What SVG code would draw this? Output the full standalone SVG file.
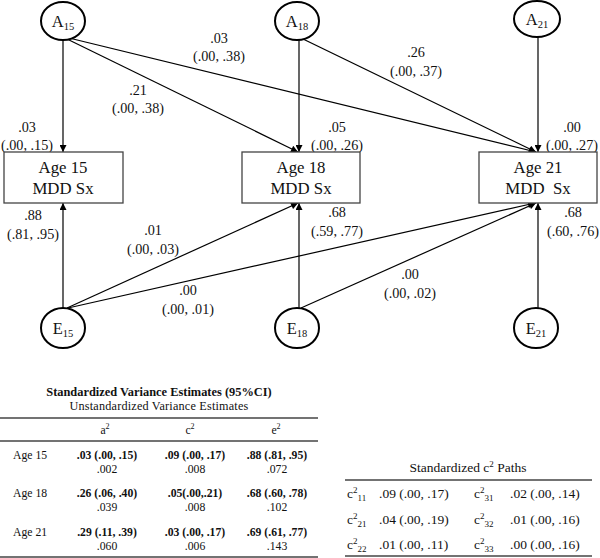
<svg xmlns="http://www.w3.org/2000/svg" width="600" height="558" viewBox="0 0 600 558" font-family="'Liberation Serif', 'Times New Roman', serif">
<defs>
<marker id="ah" viewBox="0 0 10 10" refX="10" refY="5" markerWidth="8" markerHeight="7" markerUnits="userSpaceOnUse" orient="auto"><path d="M0,0 L10,5 L0,10 z" fill="#000"/></marker>
<style>
text{font-family:"Liberation Serif","Times New Roman",serif;fill:#111}
.lat{fill:#fff;stroke:#000;stroke-width:2}
.box{fill:#fff;stroke:#444;stroke-width:1.3}
.c{stroke:#000;stroke-width:1.2;fill:none;marker-end:url(#ah)}
.lbl{font-size:14.2px;text-anchor:middle}
.nm{font-size:16.5px;text-anchor:middle}
.bx{font-size:16.8px;text-anchor:middle}
.tb{font-size:11.7px}
.t2{font-size:13.5px}
.b{font-weight:bold}
.m{text-anchor:middle}
.rule{stroke:#444;stroke-width:1.5}
</style>
</defs>
<g id="connectors">
<line class="c" x1="63" y1="40" x2="63" y2="152"/>
<line class="c" x1="67" y1="39" x2="298" y2="152"/>
<line class="c" x1="69" y1="38" x2="536" y2="152"/>
<line class="c" x1="299" y1="40" x2="299" y2="152"/>
<line class="c" x1="303" y1="39" x2="536" y2="152"/>
<line class="c" x1="538" y1="37" x2="538" y2="152"/>
<line class="c" x1="63" y1="308" x2="63" y2="203"/>
<line class="c" x1="67" y1="308" x2="298" y2="203"/>
<line class="c" x1="68" y1="308" x2="535" y2="203"/>
<line class="c" x1="299" y1="308" x2="299" y2="203"/>
<line class="c" x1="301" y1="308" x2="536" y2="203"/>
<line class="c" x1="538" y1="308" x2="538" y2="203"/>
</g>
<g id="labels">
<text class="lbl" x="27" y="132">.03</text><text class="lbl" x="27" y="150">(.00, .15)</text>
<text class="lbl" x="138" y="95">.21</text><text class="lbl" x="138" y="113">(.00, .38)</text>
<text class="lbl" x="219" y="43">.03</text><text class="lbl" x="219" y="61">(.00, .38)</text>
<text class="lbl" x="416" y="57">.26</text><text class="lbl" x="416" y="76">(.00, .37)</text>
<text class="lbl" x="337" y="132">.05</text><text class="lbl" x="337" y="150">(.00, .26)</text>
<text class="lbl" x="572" y="132">.00</text><text class="lbl" x="572" y="150">(.00, .27)</text>
<text class="lbl" x="33" y="220">.88</text><text class="lbl" x="33" y="239">(.81, .95)</text>
<text class="lbl" x="153" y="235">.01</text><text class="lbl" x="153" y="254">(.00, .03)</text>
<text class="lbl" x="188" y="295">.00</text><text class="lbl" x="188" y="314">(.00, .01)</text>
<text class="lbl" x="337" y="217">.68</text><text class="lbl" x="337" y="236">(.59, .77)</text>
<text class="lbl" x="410" y="279">.00</text><text class="lbl" x="410" y="298">(.00, .02)</text>
<text class="lbl" x="573" y="217">.68</text><text class="lbl" x="573" y="236">(.60, .76)</text>
</g>
<g id="A15"><ellipse class="lat" cx="63" cy="21" rx="22" ry="19"/><text class="nm" x="63" y="27">A<tspan font-size="10.5" dy="3">15</tspan></text></g>
<g id="A18"><ellipse class="lat" cx="297" cy="21" rx="22" ry="19"/><text class="nm" x="297" y="27">A<tspan font-size="10.5" dy="3">18</tspan></text></g>
<g id="A21"><ellipse class="lat" cx="537" cy="19" rx="23" ry="18"/><text class="nm" x="537" y="25">A<tspan font-size="10.5" dy="3">21</tspan></text></g>
<g id="age15"><rect class="box" x="4" y="152" width="119" height="51"/><text class="bx" x="63" y="173">Age 15</text><text class="bx" x="63" y="194">MDD Sx</text></g>
<g id="age18"><rect class="box" x="242" y="152" width="118" height="51"/><text class="bx" x="301" y="173">Age 18</text><text class="bx" x="301" y="194">MDD Sx</text></g>
<g id="age21"><rect class="box" x="479" y="152" width="118" height="51"/><text class="bx" x="538" y="173">Age 21</text><text class="bx" x="538" y="194" xml:space="preserve">MDD  Sx</text></g>
<g id="E15"><ellipse class="lat" cx="63" cy="328" rx="22" ry="20"/><text class="nm" x="63" y="334">E<tspan font-size="10.5" dy="3">15</tspan></text></g>
<g id="E18"><ellipse class="lat" cx="297" cy="328" rx="22" ry="20"/><text class="nm" x="297" y="334">E<tspan font-size="10.5" dy="3">18</tspan></text></g>
<g id="E21"><ellipse class="lat" cx="536" cy="328" rx="22" ry="20"/><text class="nm" x="536" y="334">E<tspan font-size="10.5" dy="3">21</tspan></text></g>
<g id="table1">
<text class="b m" font-size="12.4" x="159" y="396">Standardized Variance Estimates (95%CI)</text>
<text class="m" font-size="12.2" letter-spacing="0.2" x="159" y="410">Unstandardized Variance Estimates</text>
<line class="rule" x1="0" y1="418" x2="318" y2="418"/>
<line class="rule" x1="0" y1="441" x2="318" y2="441"/>
<line class="rule" x1="0" y1="557" x2="318" y2="557"/>
<text class="tb m" x="105" y="434">a<tspan font-size="8" dy="-5">2</tspan></text>
<text class="tb m" x="190" y="434">c<tspan font-size="8" dy="-5">2</tspan></text>
<text class="tb m" x="276" y="434">e<tspan font-size="8" dy="-5">2</tspan></text>
<text class="tb" x="13" y="459">Age 15</text>
<text class="tb b m" x="107" y="459">.03 (.00, .15)</text><text class="tb m" x="107" y="473">.002</text>
<text class="tb b m" x="195" y="459">.09 (.00, .17)</text><text class="tb m" x="195" y="473">.008</text>
<text class="tb b m" x="277" y="459">.88 (.81, .95)</text><text class="tb m" x="277" y="473">.072</text>
<text class="tb" x="13" y="497">Age 18</text>
<text class="tb b m" x="107" y="497">.26 (.06, .40)</text><text class="tb m" x="107" y="511">.039</text>
<text class="tb b m" x="195" y="497">.05(.00,.21)</text><text class="tb m" x="195" y="511">.008</text>
<text class="tb b m" x="277" y="497">.68 (.60, .78)</text><text class="tb m" x="277" y="511">.102</text>
<text class="tb" x="13" y="536">Age 21</text>
<text class="tb b m" x="107" y="536">.29 (.11, .39)</text><text class="tb m" x="107" y="550">.060</text>
<text class="tb b m" x="195" y="536">.03 (.00, .17)</text><text class="tb m" x="195" y="550">.006</text>
<text class="tb b m" x="277" y="536">.69 (.61, .77)</text><text class="tb m" x="277" y="550">.143</text>
</g>
<g id="table2">
<text class="t2 m" x="468" y="472">Standardized c<tspan font-size="9" dy="-5">2</tspan><tspan dy="5"> Paths</tspan></text>
<line class="rule" x1="345" y1="480" x2="592" y2="480"/>
<line class="rule" x1="345" y1="556" x2="592" y2="556"/>
<text class="t2" x="347" y="498">c<tspan font-size="9" dy="-5">2</tspan><tspan font-size="9" dy="8">11</tspan></text>
<text class="t2" x="379" y="498">.09 (.00, .17)</text>
<text class="t2" x="474" y="498">c<tspan font-size="9" dy="-5">2</tspan><tspan font-size="9" dy="8">31</tspan></text>
<text class="t2" x="510" y="498">.02 (.00, .14)</text>
<text class="t2" x="347" y="524">c<tspan font-size="9" dy="-5">2</tspan><tspan font-size="9" dy="8">21</tspan></text>
<text class="t2" x="379" y="524">.04 (.00, .19)</text>
<text class="t2" x="474" y="524">c<tspan font-size="9" dy="-5">2</tspan><tspan font-size="9" dy="8">32</tspan></text>
<text class="t2" x="510" y="524">.01 (.00, .16)</text>
<text class="t2" x="347" y="549">c<tspan font-size="9" dy="-5">2</tspan><tspan font-size="9" dy="8">22</tspan></text>
<text class="t2" x="379" y="549">.01 (.00, .11)</text>
<text class="t2" x="474" y="549">c<tspan font-size="9" dy="-5">2</tspan><tspan font-size="9" dy="8">33</tspan></text>
<text class="t2" x="510" y="549">.00 (.00, .16)</text>
</g>
</svg>
